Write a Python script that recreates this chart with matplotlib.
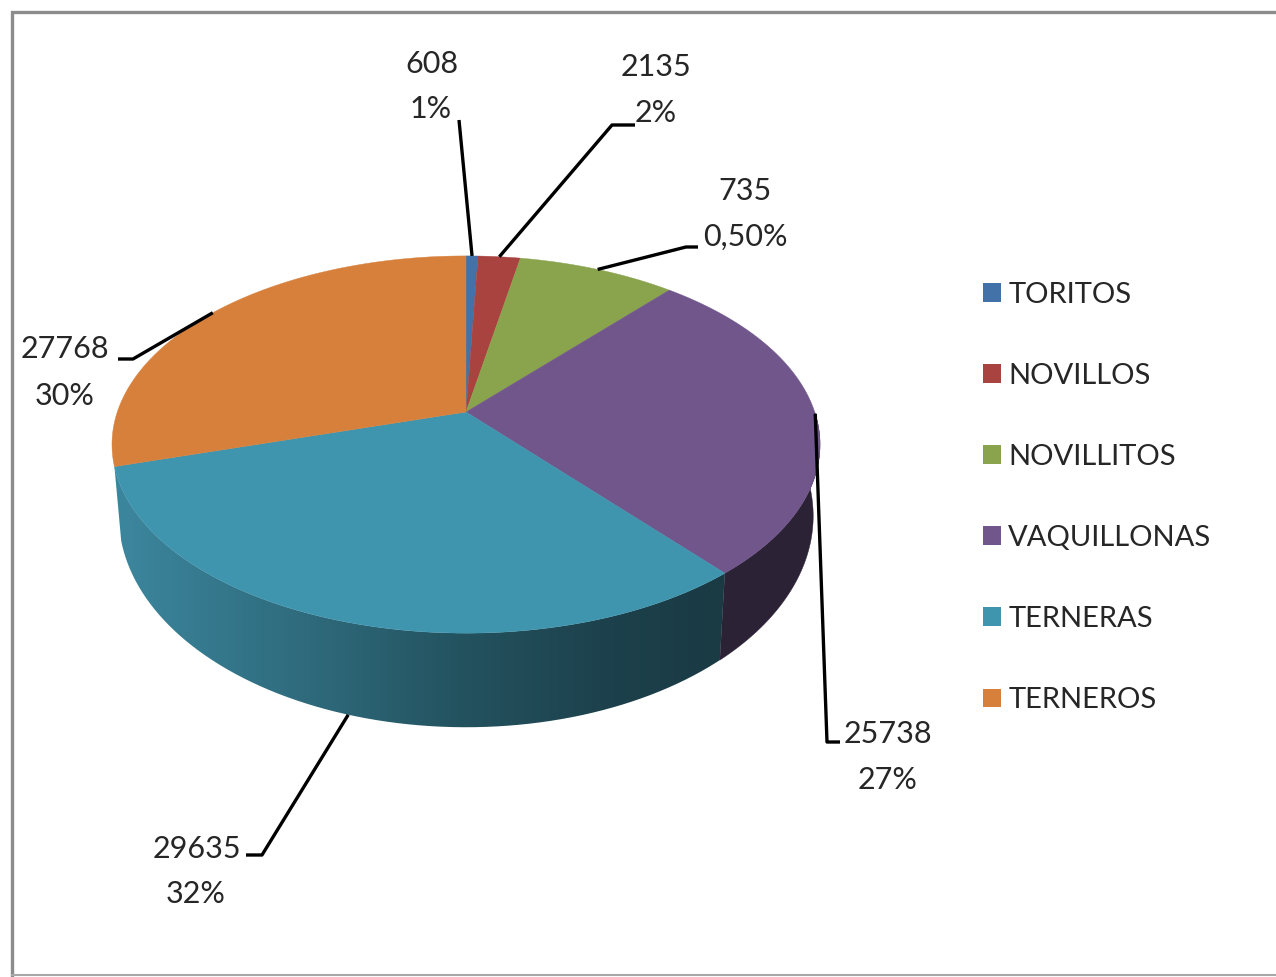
import numpy as np
import matplotlib
matplotlib.use('Agg')
import matplotlib.pyplot as plt
from matplotlib.patches import Patch, PathPatch
from matplotlib.path import Path

# ------ DATA
categories = ['TORITOS', 'NOVILLOS', 'NOVILLITOS', 'VAQUILLONAS', 'TERNERAS', 'TERNEROS']
# the green slice is drawn about 8% wide even though its label says 735 / 0,50%
slice_values = [608, 2135, 8000, 25738, 29635, 27768]
value_labels = ['608', '2135', '735', '25738', '29635', '27768']
percent_labels = ['1%', '2%', '0,50%', '27%', '32%', '30%']

# ------ STYLE
colors = ['#4272a8', '#a84340', '#89a44c', '#71568c', '#3f94ae', '#d7803c']
purple_side = '#2c2236'
text_color = '#262626'
plt.rcParams['font.family'] = ['Lato', 'DejaVu Sans']

# ------ LAYOUT (pixels of the 1276x977 picture)
cx = 466
top_y, top_r, top_s = 412, 348.7, 183
bot_y, bot_r, bot_s = 479.5, 342, 205
persp = 0.1725
value_pos = [(432, 64), (656, 67), (745, 191), (888, 734), (197, 849), (65, 349)]
percent_pos = [(431, 109), (656, 113), (745, 237), (888, 780), (196, 894), (65, 396)]
# leader line points going out from the rim towards the label
leader_pts = [
    [(459, 120)],
    [(612, 125), (635, 125)],
    [(686, 247), (698, 247)],
    [(827, 742), (840, 742)],
    [(262, 855), (246, 855)],
    [(133, 359), (118, 359)],
]
font_size = 22
legend_size = 21


def rim(theta, y0, r, s):
    # theta runs clockwise from 12 o'clock, nearer edge of the disc is stretched
    u = np.sin(theta)
    v = np.cos(theta)
    d = 1 + persp * v
    return cx + r * u / d, y0 - s * v / d


def wall_outline(a0, a1):
    th = np.linspace(a0, a1, 150)
    xt, yt = rim(th, top_y, top_r, top_s)
    xb, yb = rim(th[::-1], bot_y, bot_r, bot_s)
    return np.r_[xt, xb], np.r_[yt, yb]


fractions = np.array(slice_values) / np.sum(slice_values)
edges = np.concatenate(([0], np.cumsum(fractions))) * 2 * np.pi

fig = plt.figure(figsize=(12.76, 9.77), dpi=100)
ax = fig.add_axes([0, 0, 1, 1])

# frame of the pasted chart
ax.plot([1276, 12, 12], [12, 12, 975], color='#8c8c8c', lw=2.4, zorder=1,
        solid_joinstyle='miter')
ax.plot([12, 1276], [975, 975], color='#a8a8a8', lw=1.5, zorder=1)

# side wall: purple is flat, teal carries a left to right gradient
i_purple = categories.index('VAQUILLONAS')
x, y = wall_outline(max(edges[i_purple], np.pi / 2), edges[i_purple + 1])
ax.fill(x, y, color=purple_side, lw=0.3, zorder=2)

i_teal = categories.index('TERNERAS')
x, y = wall_outline(edges[i_teal], edges[i_teal + 1])
stops_x = [120, 200, 330, 450, 600, 720]
stops = np.array([[60, 134, 157], [54, 122, 143], [45, 103, 120],
                  [36, 84, 97], [29, 66, 77], [26, 58, 68]]) / 255
grad_x = np.linspace(110, 730, 310)
grad = np.stack([np.interp(grad_x, stops_x, stops[:, k]) for k in range(3)], axis=-1)[None, :, :]
im = ax.imshow(grad, extent=(110, 730, 740, 450), aspect='auto', interpolation='bilinear', zorder=2)
clip = PathPatch(Path(np.c_[x, y]), transform=ax.transData, facecolor='none', edgecolor='none')
ax.add_patch(clip)
im.set_clip_path(clip)

# top face
for i in range(len(slice_values)):
    th = np.linspace(edges[i], edges[i + 1], 120)
    x, y = rim(th, top_y, top_r, top_s)
    ax.fill(np.r_[cx, x], np.r_[top_y, y], color=colors[i], lw=0.3, zorder=3)

# leaders start on the rim at the middle of each slice
mids = (edges[:-1] + edges[1:]) / 2
for i in range(len(slice_values)):
    if categories[i] == 'TERNERAS':
        x0, y0 = rim(mids[i], bot_y, bot_r, bot_s)
    else:
        x0, y0 = rim(mids[i], top_y, top_r, top_s)
    xs = [x0] + [p[0] for p in leader_pts[i]]
    ys = [y0] + [p[1] for p in leader_pts[i]]
    ax.plot(xs, ys, color='black', lw=2.4, zorder=4, solid_capstyle='butt')
    ax.text(value_pos[i][0], value_pos[i][1], value_labels[i], ha='center', va='center',
            fontsize=font_size, color=text_color, zorder=5)
    ax.text(percent_pos[i][0], percent_pos[i][1], percent_labels[i], ha='center', va='center',
            fontsize=font_size, color=text_color, zorder=5)

ax.set_xlim(0, 1276)
ax.set_ylim(977, 0)
ax.axis('off')

handles = [Patch(facecolor=c, edgecolor='none') for c in colors]
ax.legend(handles, categories, loc='upper left', bbox_to_anchor=(983, 281.6),
          bbox_transform=ax.transData, frameon=False, fontsize=legend_size,
          labelcolor=text_color, handlelength=0.62, handleheight=0.62,
          handletextpad=0.25, labelspacing=1.89, borderpad=0, borderaxespad=0)

fig.savefig('out.png', dpi=100, facecolor='white')
